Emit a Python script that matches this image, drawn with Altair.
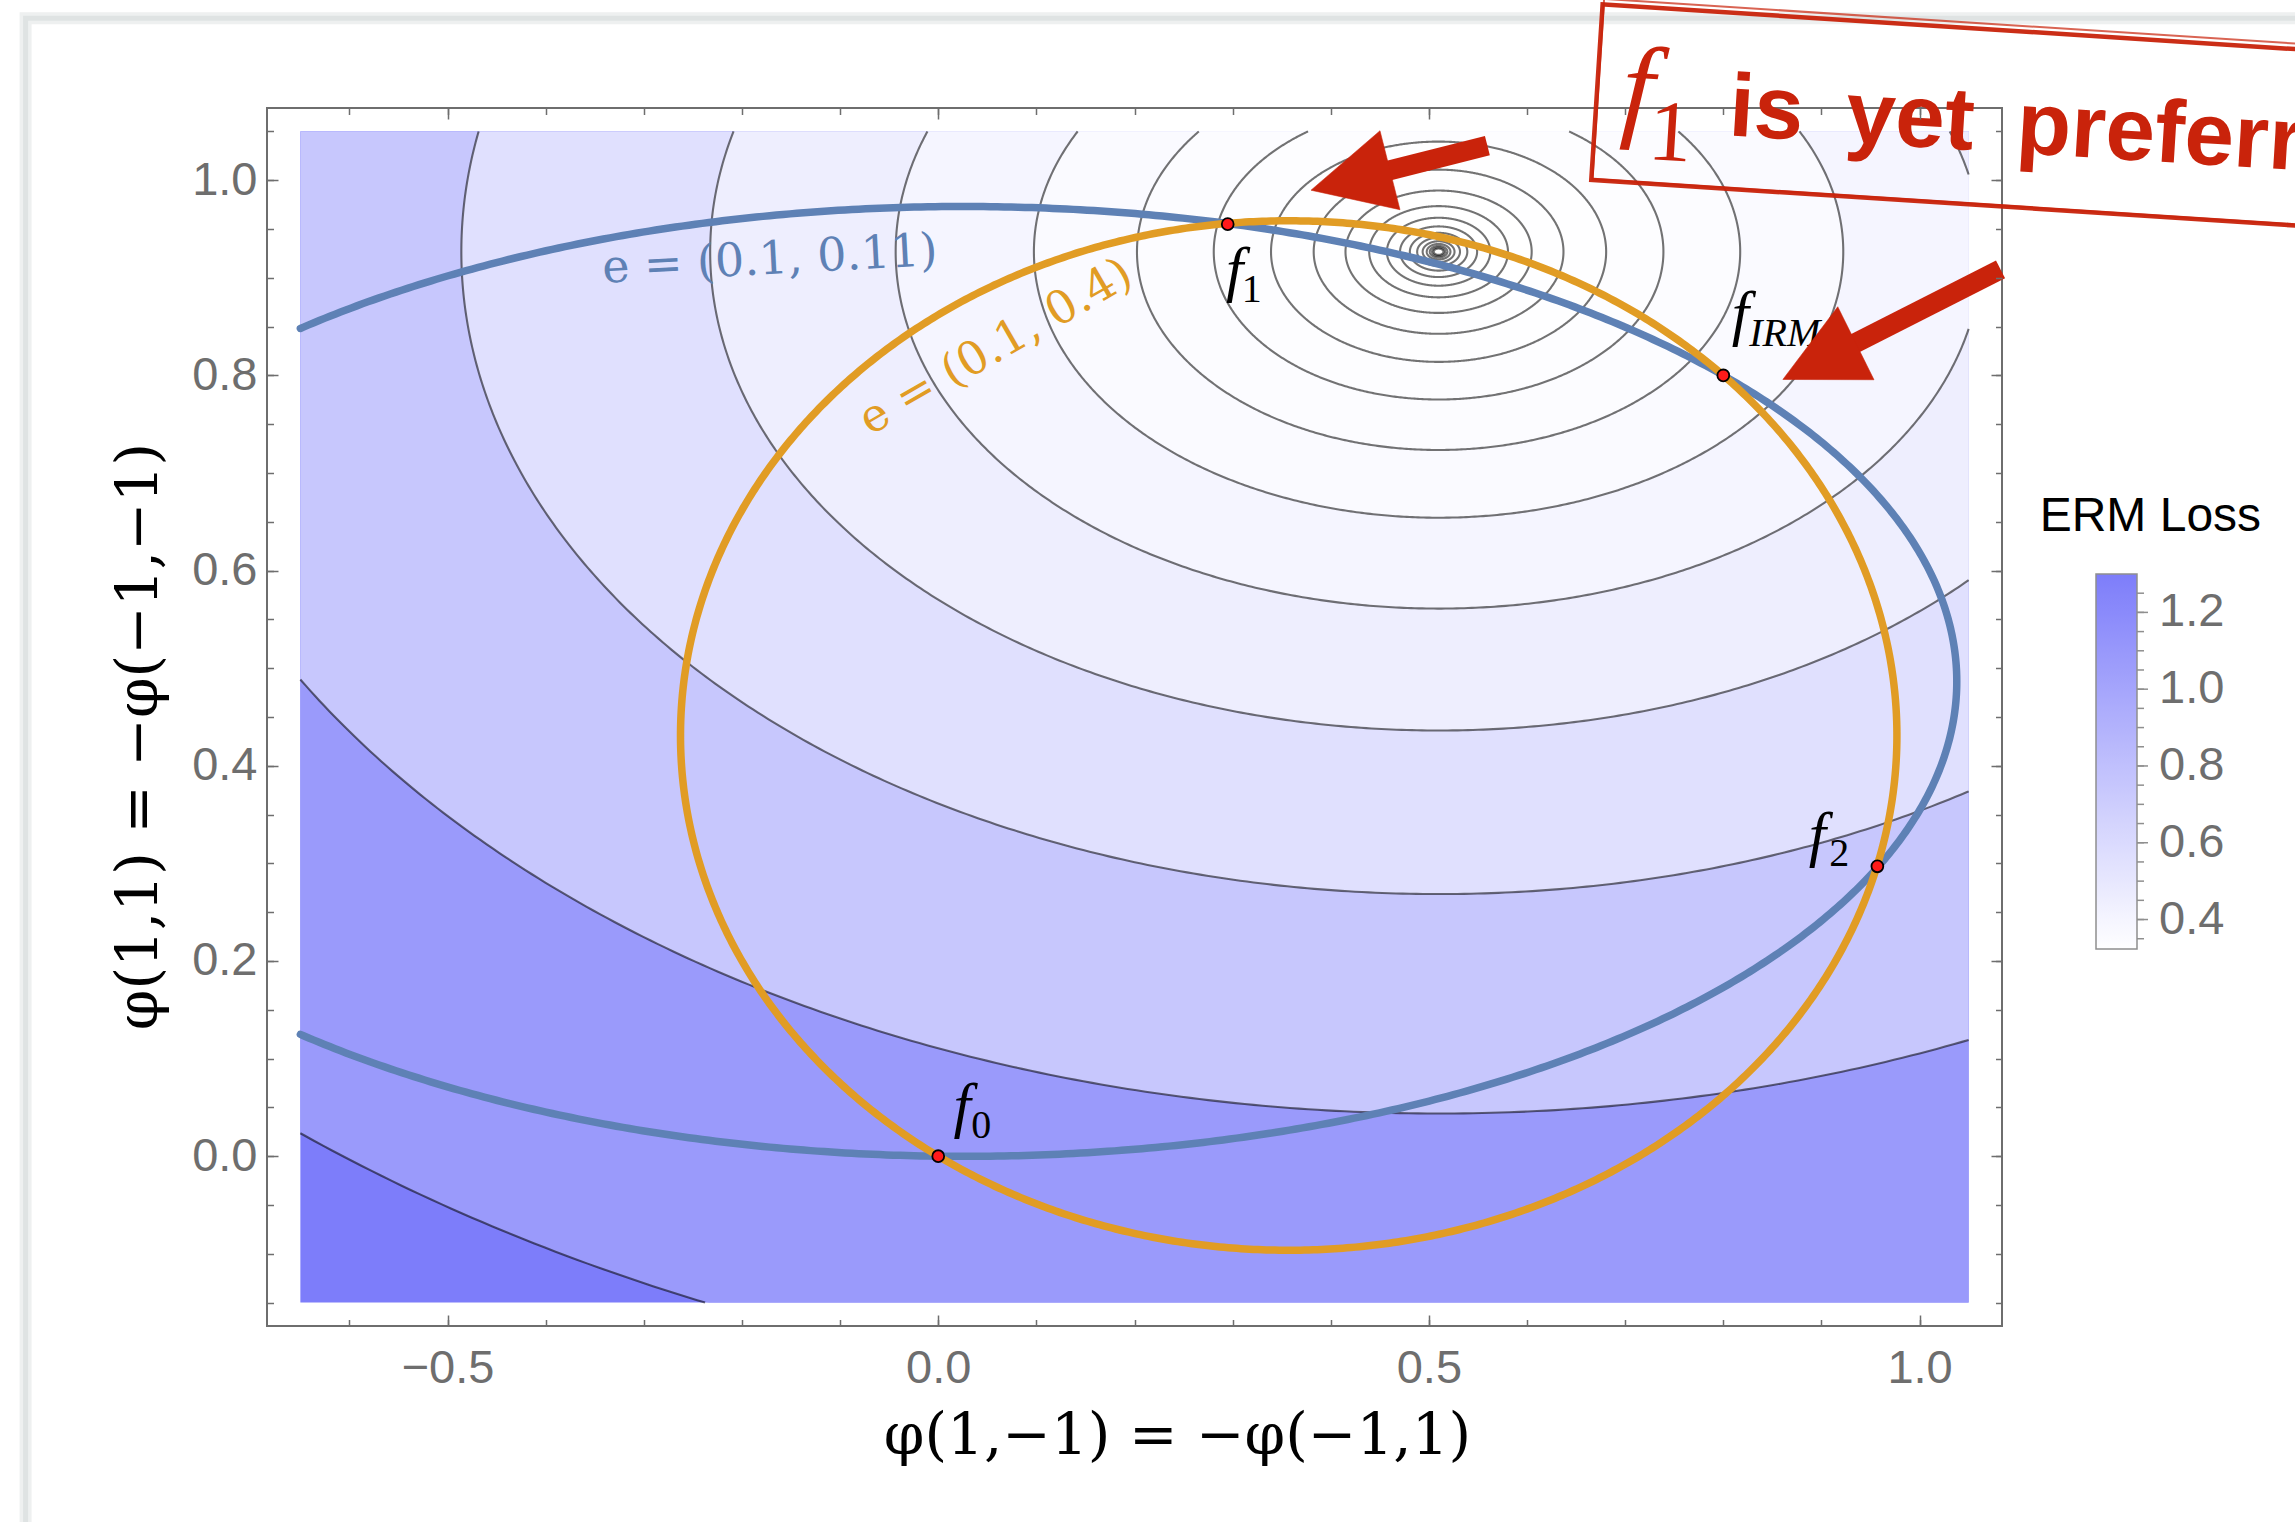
import numpy as np
import pandas as pd
import altair as alt

alt.data_transformers.disable_max_rows()

# ---------------------------------------------------------------------------
# Two training environments e = (alpha, beta), squared loss on phi
# ---------------------------------------------------------------------------
ALPHA = 0.1
BETAS = [0.11, 0.4]
ENV_TEXT = ["e = (0.1, 0.11)", "e = (0.1, 0.4)"]
ENV_COLOR = ["#5e81b5", "#e19c24"]

# ERM loss contour levels, outermost first
LEVELS = [1.3, 0.86588, 0.62470, 0.49072, 0.41628, 0.37493, 0.35195, 0.33919,
          0.332097, 0.328157, 0.325969, 0.324753, 0.324077, 0.323702, 0.323494,
          0.323378, 0.3233135, 0.3232777, 0.3232578, 0.3232468, 0.3232407]

# highlighted solutions
PT_SUB = ["0", "1", "2", "IRM"]
PT_X = [0.0, 0.295, 0.957, 0.80]
PT_Y = [0.0, 0.955, 0.297, 0.80]

# axis ticks
X_MAJOR = [-0.5, 0.0, 0.5, 1.0]
X_MINOR = [round(-0.6 + 0.1 * i, 2) for i in range(17)]
Y_MAJOR = [0.0, 0.2, 0.4, 0.6, 0.8, 1.0]
Y_MINOR = [round(-0.15 + 0.05 * i, 2) for i in range(25)]
CBAR_TICKS = [0.4, 0.6, 0.8, 1.0, 1.2]
CBAR_MINOR = [round(0.35 + 0.05 * i, 2) for i in range(19)]

# region covered by the contour plot
XR = (-0.65, 1.05)
YR = (-0.15, 1.05)

X_TITLE = "φ(1,−1) = −φ(−1,1)"
Y_TITLE = "φ(1,1) = −φ(−1,−1)"

RED = "#c9230b"
GRAY = "#6e6e6e"

# layout (pixels)
WIDTH, HEIGHT = 1735, 1218
LEG_X, LEG_Y, LEG_LEN, LEG_THICK = 1829, 466, 375, 41


# ---------------------------------------------------------------------------
# loss geometry
# ---------------------------------------------------------------------------
def env_coeffs(a, b):
    p = (1 - a) * (1 - b) + a * b      # P(x1 == x2): weight of phi(1,1)^2
    q = a + b - 2 * a * b              # P(x1 != x2): weight of phi(1,-1)^2
    cv = 1 - a - b                     # E[y phi] coefficient of phi(1,1)
    cu = b - a                         # E[y phi] coefficient of phi(1,-1)
    return p, q, cv, cu


COEF = [env_coeffs(ALPHA, b) for b in BETAS]
P = np.mean([c[0] for c in COEF])
Q = np.mean([c[1] for c in COEF])
CV = np.mean([c[2] for c in COEF])
CU = np.mean([c[3] for c in COEF])
U0, V0 = CU / Q, CV / P
LMIN = 1 - CV ** 2 / P - CU ** 2 / Q
LMAX = LEVELS[0]


def level_axes(level):
    d = max(level - LMIN, 1e-12)
    return np.sqrt(d / Q), np.sqrt(d / P)


def irm_ellipse(p, q, cv, cu):
    uc, vc = cu / (2 * q), cv / (2 * p)
    k = p * vc ** 2 + q * uc ** 2
    return uc, vc, np.sqrt(k / q), np.sqrt(k / p)


def inside(u, v):
    return XR[0] <= u <= XR[1] and YR[0] <= v <= YR[1]


def border_point(p, q):
    """Point where the segment p (inside) -> q (outside) leaves the region."""
    (u1, v1), (u2, v2) = p, q
    du, dv = u2 - u1, v2 - v1
    s = 1.0
    for lo, hi, a, d in ((XR[0], XR[1], u1, du), (YR[0], YR[1], v1, dv)):
        if d > 0:
            s = min(s, (hi - a) / d)
        elif d < 0:
            s = min(s, (lo - a) / d)
    return (u1 + s * du, v1 + s * dv)


def clipped_curve(uc, vc, au, av, n=900):
    t = np.linspace(0, 2 * np.pi, n)
    pts = list(zip(uc + au * np.cos(t), vc + av * np.sin(t)))
    segs, cur = [], []
    for i, p in enumerate(pts):
        if inside(*p):
            if not cur and i > 0:
                cur.append(border_point(p, pts[i - 1]))
            cur.append(p)
        elif cur:
            cur.append(border_point(pts[i - 1], p))
            segs.append(cur)
            cur = []
    if cur:
        segs.append(cur)
    if len(segs) > 1 and inside(*pts[0]) and inside(*pts[-1]):
        segs[0] = segs[-1] + segs[0]
        segs.pop()
    return segs


def curve_frame(uc, vc, au, av, key):
    rows = []
    for j, seg in enumerate(clipped_curve(uc, vc, au, av)):
        for i, (u, v) in enumerate(seg):
            rows.append({"u": u, "v": v, "seg": f"{key}-{j}", "i": i})
    return pd.DataFrame(rows)


def filled_ellipse(uc, vc, au, av, n=361):
    t = np.linspace(0, np.pi, n)
    xs = uc - au * np.cos(t)
    extra = [x for x in XR if uc - au < x < uc + au]
    xs = np.unique(np.concatenate([xs, extra]))
    xs = xs[(xs >= XR[0]) & (xs <= XR[1])]
    h = av * np.sqrt(np.clip(1 - ((xs - uc) / au) ** 2, 0, None))
    return pd.DataFrame({"u": xs,
                         "lo": np.clip(vc - h, *YR),
                         "hi": np.clip(vc + h, *YR)})


# ---------------------------------------------------------------------------
# scales and axes
# ---------------------------------------------------------------------------
XS = alt.Scale(domain=[-0.684, 1.084], nice=False, zero=False)
YS = alt.Scale(domain=[-0.174, 1.074], nice=False, zero=False)
CS = alt.Scale(domain=[LMIN, LMAX], range=["#ffffff", "#7d7dfa"], interpolate="rgb")

# vertical scale of the colour bar, expressed over the full plot height
_per_px = (LMAX - LMIN) / LEG_LEN
CBS = alt.Scale(domain=[LMAX - (HEIGHT - LEG_Y) * _per_px, LMAX + LEG_Y * _per_px],
                nice=False, zero=False)

LEGEND = alt.Legend(orient="none", legendX=LEG_X, legendY=LEG_Y, direction="vertical",
                    gradientLength=LEG_LEN, gradientThickness=LEG_THICK,
                    gradientStrokeColor="#8f8f8f", gradientStrokeWidth=1.5,
                    values=CBAR_TICKS, format=".1f", labelFont="Liberation Sans",
                    labelFontSize=47, labelColor=GRAY, labelOffset=22,
                    labelOverlap=False, title=None, padding=0)


def tick_axis(orient, values, size):
    return alt.Axis(orient=orient, values=values, labels=False, domain=False,
                    grid=False, ticks=True, tickSize=size, tickColor=GRAY,
                    tickWidth=1.5, offset=-size, zindex=1)


X_LAB = alt.Axis(orient="bottom", values=X_MAJOR, format=".1f", ticks=False,
                 domain=False, grid=False, labelFont="Liberation Sans",
                 labelFontSize=47, labelColor=GRAY, labelPadding=19,
                 labelFlush=False, labelOverlap=False, offset=0,
                 title=X_TITLE, titleFont="DejaVu Serif", titleFontSize=58,
                 titleFontWeight="normal", titleColor="black", titleX=910,
                 titleY=127, titleBaseline="alphabetic", titleAlign="center")
Y_LAB = alt.Axis(orient="left", values=Y_MAJOR, format=".1f", ticks=False,
                 domain=False, grid=False, labelFont="Liberation Sans",
                 labelFontSize=47, labelColor=GRAY, labelPadding=10,
                 labelFlush=False, labelOverlap=False, offset=0,
                 title=Y_TITLE, titleFont="DejaVu Serif", titleFontSize=58,
                 titleFontWeight="normal", titleColor="black", titleX=-111,
                 titleY=628, titleAngle=270, titleBaseline="alphabetic",
                 titleAlign="center")
X_AXES = [X_LAB, tick_axis("bottom", X_MAJOR, 11), tick_axis("bottom", X_MINOR, 6.5),
          tick_axis("top", X_MAJOR, 11), tick_axis("top", X_MINOR, 6.5)]
Y_AXES = [Y_LAB, tick_axis("left", Y_MAJOR, 11), tick_axis("left", Y_MINOR, 6.5),
          tick_axis("right", Y_MAJOR, 11), tick_axis("right", Y_MINOR, 6.5)]


def xy(xaxis=None, yaxis=None, u="u:Q", v="v:Q"):
    return dict(x=alt.X(u, scale=XS, axis=xaxis, title=None),
                y=alt.Y(v, scale=YS, axis=yaxis, title=None))


def text_layer(u, v, txt, **kw):
    df = pd.DataFrame({"u": [u], "v": [v], "t": [txt]})
    return alt.Chart(df).mark_text(**kw).encode(text="t:N", **xy())


layers = []

# slide frame
frame = pd.DataFrame({"u": [-0.930], "u2": [2.6], "v": [1.166], "v2": [-1.6]})
for w, c in ((12, "#eef0f0"), (5, "#dfe3e3")):
    layers.append(alt.Chart(frame).mark_rect(filled=False, stroke=c, strokeWidth=w).encode(
        x=alt.X("u:Q", scale=XS, axis=None, title=None), x2="u2:Q",
        y=alt.Y("v:Q", scale=YS, axis=None, title=None), y2="v2:Q"))

# ---------------------------------------------------------------------------
# filled contour bands
# ---------------------------------------------------------------------------
back = pd.DataFrame({"u": [XR[0]], "u2": [XR[1]], "v": [YR[0]], "v2": [YR[1]],
                     "val": [LMAX]})
layers.append(alt.Chart(back).mark_rect().encode(
    x=alt.X("u:Q", scale=XS, axis=X_AXES[0], title=X_TITLE), x2="u2:Q",
    y=alt.Y("v:Q", scale=YS, axis=Y_AXES[0], title=Y_TITLE), y2="v2:Q",
    color=alt.Color("val:Q", scale=CS, legend=LEGEND)))

for k, lev in enumerate(LEVELS):
    nxt = LEVELS[k + 1] if k + 1 < len(LEVELS) else LMIN
    au, av = level_axes(lev)
    df = filled_ellipse(U0, V0, au, av)
    df["val"] = 0.5 * (lev + nxt)
    ax = 1 + k if k < 4 else None
    layers.append(alt.Chart(df).mark_area(opacity=1, interpolate="linear").encode(
        x=alt.X("u:Q", scale=XS, axis=X_AXES[ax] if ax else None, title=None),
        y=alt.Y("lo:Q", scale=YS, axis=Y_AXES[ax] if ax else None, title=None),
        y2="hi:Q",
        color=alt.Color("val:Q", scale=CS, legend=LEGEND)))

# contour lines
cont = pd.concat([curve_frame(U0, V0, *level_axes(lev), key=f"c{k}")
                  for k, lev in enumerate(LEVELS)], ignore_index=True)
layers.append(alt.Chart(cont).mark_line(color="black", opacity=0.55, strokeWidth=2.1).encode(
    detail="seg:N", order="i:Q", **xy()))

# IRM constraint sets, one ellipse per environment
for (p, q, cv, cu), col, key in zip(COEF, ENV_COLOR, ["blue", "orange"]):
    df = curve_frame(*irm_ellipse(p, q, cv, cu), key=key)
    layers.append(alt.Chart(df).mark_line(color=col, strokeWidth=7.5, strokeCap="round").encode(
        detail="seg:N", order="i:Q", **xy()))

# solutions
pts = pd.DataFrame({"u": PT_X, "v": PT_Y, "name": PT_SUB})
layers.append(alt.Chart(pts).mark_point(filled=True, fill="#ff1a1a", stroke="black",
                                        strokeWidth=1.8, size=140, opacity=1).encode(**xy()))

# point labels: italic f with a subscript
LABEL_OFFSETS = {"0": (24, -30, 33, -18), "1": (7, 66, 14, 78),
                 "2": (-60, -11, -48, 0), "IRM": (17, -41, 26, -29)}
for u, v, s in zip(PT_X, PT_Y, PT_SUB):
    fdx, fdy, sdx, sdy = LABEL_OFFSETS[s]
    layers.append(text_layer(u, v, "f", font="Liberation Serif", fontStyle="italic",
                             fontSize=62, align="center", baseline="alphabetic",
                             dx=fdx, dy=fdy, color="black"))
    layers.append(text_layer(u, v, s, font="Liberation Serif",
                             fontStyle="italic" if s == "IRM" else "normal",
                             fontSize=40, align="left", baseline="alphabetic",
                             dx=sdx, dy=sdy, color="black"))

# environment labels along their curves
layers.append(text_layer(-0.1716, 0.9184, ENV_TEXT[0], font="DejaVu Serif", fontSize=46,
                         align="center", baseline="middle", angle=357, color=ENV_COLOR[0]))
layers.append(text_layer(0.0586, 0.829, ENV_TEXT[1], font="DejaVu Serif", fontSize=46,
                         align="center", baseline="middle", angle=330, color=ENV_COLOR[1]))

# colour bar title and tick marks
layers.append(text_layer(1.2352, 0.641, "ERM Loss", font="Liberation Sans", fontSize=48,
                         align="center", baseline="alphabetic", color="black"))
for vals, ln in ((CBAR_MINOR, 7), (CBAR_TICKS, 11)):
    layers.append(alt.Chart(pd.DataFrame({"val": vals})).mark_rule(
        color="#8f8f8f", strokeWidth=1.5).encode(
        x=alt.value(LEG_X + LEG_THICK), x2=alt.value(LEG_X + LEG_THICK + ln),
        y=alt.Y("val:Q", scale=CBS, axis=None, title=None)))

# ---------------------------------------------------------------------------
# annotation arrows
# ---------------------------------------------------------------------------
arrows = pd.DataFrame({
    "u": [0.5596, 1.0825], "v": [1.0354, 0.9086],          # tails
    "hu": [0.4201, 0.8979], "hv": [1.0000, 0.8144],        # head centres
    "ang": [255.8, 243.6],
})
layers.append(alt.Chart(arrows).mark_rule(color=RED, strokeWidth=20, strokeCap="butt").encode(
    x=alt.X("u:Q", scale=XS, axis=None, title=None), x2="hu:Q",
    y=alt.Y("v:Q", scale=YS, axis=None, title=None), y2="hv:Q"))
layers.append(alt.Chart(arrows).mark_point(shape="M0,-1L1,1L-1,1Z", filled=True, fill=RED,
                                           stroke=RED, strokeWidth=0.5, size=6640, opacity=1).encode(
    x=alt.X("hu:Q", scale=XS, axis=None, title=None),
    y=alt.Y("hv:Q", scale=YS, axis=None, title=None),
    angle=alt.Angle("ang:Q", scale=None)))

# ---------------------------------------------------------------------------
# stamp
# ---------------------------------------------------------------------------
stamp = pd.DataFrame({"u": [1.1797, 1.1810], "v": [1.0572, 1.0597]})
for i, (w, shp, op) in enumerate(((4.5, "M-1,-0.176L1,-0.176L1,0.176L-1,0.176Z", 0.95),
                                  (2, "M-1,-0.182L1,-0.182L1,0.179L-1,0.179Z", 0.7))):
    layers.append(alt.Chart(stamp.iloc[[i]]).mark_point(
        shape=shp, filled=False, stroke=RED, strokeWidth=w, size=1.0e6, angle=3.7,
        opacity=op).encode(**xy()))
layers.append(text_layer(0.6945, 1.0565, "f", font="Liberation Serif", fontStyle="italic",
                         fontSize=115, align="left", baseline="alphabetic", angle=3.5, color=RED))
layers.append(text_layer(0.7444, 1.0205, "1", font="Liberation Serif", fontSize=87,
                         align="center", baseline="alphabetic", angle=3.5, color=RED))
layers.append(text_layer(0.8045, 1.0462, "is\u2009 yet\u2009 preferred", font="Liberation Sans",
                         fontWeight="bold", fontSize=89, align="left", baseline="alphabetic",
                         angle=3.5, color=RED))

chart = alt.layer(*layers).resolve_axis(
    x="independent", y="independent"
).resolve_scale(y="independent").properties(
    width=WIDTH, height=HEIGHT,
    autosize=alt.AutoSizeParams(type="none"),
    padding={"left": 267, "top": 108, "right": 293, "bottom": 196},
    background="white",
).configure_view(stroke=GRAY, strokeWidth=2)

chart.save("out.html", embed_options={"renderer": "svg", "actions": False})
